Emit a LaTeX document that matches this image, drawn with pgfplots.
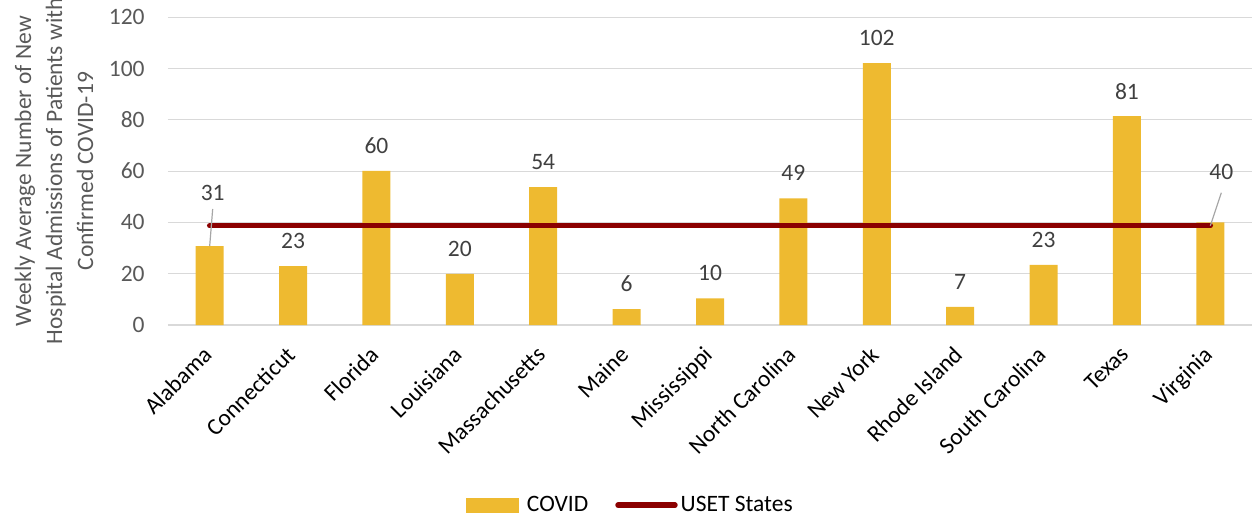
\documentclass[border=0pt]{standalone}
\usepackage{pgfplots}
\pgfplotsset{compat=1.18}
\usepackage{fontspec}
\setmainfont{Carlito}
\definecolor{gold}{RGB}{238,186,48}
\definecolor{darkred}{RGB}{139,0,0}
\definecolor{gridgray}{RGB}{217,217,217}
\definecolor{ticktext}{RGB}{89,89,89}
\definecolor{labtext}{RGB}{64,64,64}
\definecolor{leader}{RGB}{166,166,166}
\begin{document}
\begin{tikzpicture}
\begin{axis}[
  scale only axis,
  width=542pt, height=153.9pt,
  xmin=-0.5, xmax=12.5, ymin=0, ymax=120,
  xtick={0,1,2,3,4,5,6,7,8,9,10,11,12},
  xticklabels={Alabama,Connecticut,Florida,Louisiana,Massachusetts,Maine,Mississippi,North Carolina,New York,Rhode Island,South Carolina,Texas,Virginia},
  ytick={0,20,40,60,80,100,120},
  ymajorgrids,
  grid style={gridgray, line width=0.6pt},
  axis line style={draw=none},
  major tick length=0pt,
  font=\fontsize{11.75}{15.5}\selectfont,
  yticklabel style={text=ticktext, anchor=east, inner sep=0pt, xshift=-11.5pt},
  xticklabel style={text=black, rotate=45, anchor=north east, inner sep=0pt, xshift=-9.7pt, yshift=-4pt},
  /pgf/number format/assume math mode=true,
  ylabel={Weekly Average Number of New\\Hospital Admissions of Patients with\\Confirmed COVID-19},
  ylabel style={at={(axis description cs:-0.1052,0.5)}, anchor=center, align=center, text=ticktext, font=\fontsize{11.75}{15.5}\selectfont},
  legend style={at={(0.427,-0.585)}, anchor=center, draw=none, fill=none, legend columns=2,
    /tikz/every even column/.append style={column sep=12pt},
    nodes={inner sep=1.5pt, text=black}, font=\fontsize{11.75}{15.5}\selectfont},
]
\addplot[ybar, bar width=14pt, fill=gold, draw=none,
  point meta=explicit symbolic,
  nodes near coords,
  every node near coord/.style={anchor=center, yshift=12.5pt, text=labtext, inner sep=0pt, font=\fontsize{11.75}{15.5}\selectfont},
  legend image code/.code={\fill[gold] (0pt,-3.75pt) rectangle (26.5pt,3.75pt); \path (29pt,0pt);}]
  coordinates {
  (0,30.8) [{}]
  (1,23.0) [23]
  (2,60.1) [60]
  (3,19.9) [20]
  (4,53.8) [54]
  (5,6.2) [6]
  (6,10.4) [10]
  (7,49.4) [49]
  (8,102.1) [102]
  (9,7.1) [7]
  (10,23.4) [23]
  (11,81.4) [81]
  (12,40.0) [{}]
  };
\addlegendentry{COVID}
\addplot[darkred, line width=2.7pt, line cap=round, mark=none,
  legend image code/.code={\draw[darkred, line width=2.7pt, line cap=round] (0pt,0pt) -- (28.5pt,0pt);}]
  coordinates {(0,38.7) (12,38.7)};
\addlegendentry{USET States}
\addplot[draw=none, mark=none, forget plot, point meta=explicit symbolic, nodes near coords,
  every node near coord/.style={anchor=center, xshift=1.5pt, yshift=26.5pt, text=labtext, inner sep=0pt, font=\fontsize{11.75}{15.5}\selectfont}]
  coordinates {(0,30.8) [31]};
\addplot[draw=none, mark=none, forget plot, point meta=explicit symbolic, nodes near coords,
  every node near coord/.style={anchor=center, xshift=5.5pt, yshift=25pt, text=labtext, inner sep=0pt, font=\fontsize{11.75}{15.5}\selectfont}]
  coordinates {(12,40.0) [40]};
\draw[leader, line width=0.6pt] (axis cs:0,30.8) -- ++(1.5pt,18.5pt);
\draw[leader, line width=0.6pt] (axis cs:12,38.7) -- ++(5.5pt,16.5pt);
\end{axis}
\pgfresetboundingbox
\path[use as bounding box] (-84pt,-97.5pt) rectangle (542pt,162.5pt);
\end{tikzpicture}
\end{document}
